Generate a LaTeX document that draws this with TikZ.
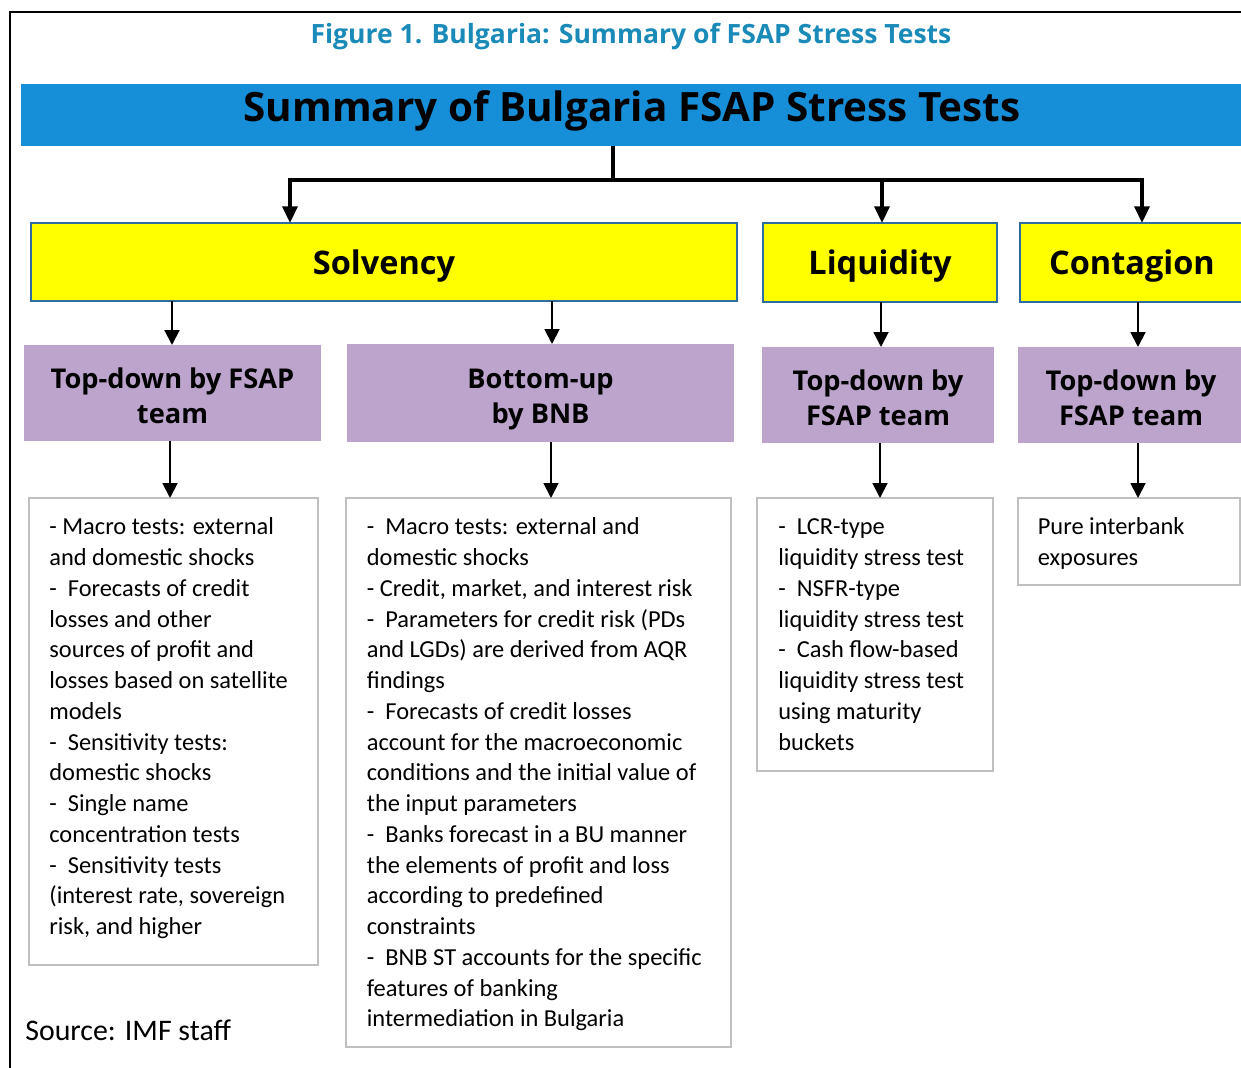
\documentclass[tikz,border=0pt]{standalone}
\usepackage{fontspec}
\setmainfont{Carlito}
\newfontfamily\headfont{Open Sans}
\usetikzlibrary{arrows.meta,calc}

\definecolor{figteal}{RGB}{26,138,184}
\definecolor{barblue}{RGB}{22,142,216}
\definecolor{boxyellow}{RGB}{255,255,0}
\definecolor{yedge}{RGB}{46,109,164}
\definecolor{lilac}{RGB}{188,164,204}
\definecolor{boxgray}{RGB}{192,192,192}

% one drawing unit = one pixel of the layout grid
\newcommand\pxl[1]{#1*0.02cm}
% invisible rules that place the two-line method labels
\newcommand\mtop{\rule{0pt}{20.9pt}}
\newcommand\mbot{\rule[-6.1pt]{0pt}{0pt}}

\tikzset{
  box/.style={anchor=north west, inner sep=0pt, outer sep=0pt},
  hdrbar/.style={box, fill=barblue},
  hdrtxt/.style={inner sep=0pt, font=\headfont\bfseries\fontsize{23}{28}\selectfont},
  catbox/.style={box, fill=boxyellow, draw=yedge, line width=0.9pt, text depth=0pt,
    font=\headfont\bfseries\fontsize{18.5}{22}\selectfont},
  methbox/.style={box, fill=lilac, align=center,
    font=\headfont\bfseries\fontsize{15.5}{20.4}\selectfont},
  txtbox/.style={box, draw=boxgray, line width=1.1pt, fill=white},
  bodytxt/.style={anchor=north west, inner sep=0pt, align=left,
    font=\fontsize{13.9}{17.5}\selectfont},
  mainarr/.style={line width=2pt, -{Triangle[width=8.5pt,length=9.5pt]}},
  subarr/.style={line width=1.1pt, -{Triangle[width=8.5pt,length=8.5pt]}},
}

\begin{document}
\begin{tikzpicture}[x=0.02cm, y=-0.02cm]
\useasboundingbox (0,0) rectangle (1241,1068);
\clip (0,0) rectangle (1241,1068);

% frame on top and left
\draw[line width=1.3pt] (10,1070) -- (10,12) -- (1245,12);

% figure caption
\node[font=\headfont\bfseries\fontsize{15.1}{19}\selectfont, text=figteal, inner sep=0pt]
  (cap) at (631,37) {Figure 1. Bulgaria: Summary of FSAP Stress Tests};

% header bar
\node[hdrbar, minimum width=\pxl{1222}, minimum height=\pxl{62}] (hdr) at (21,84) {};
\node[hdrtxt] (hdrlabel) at (632,111) {Summary of Bulgaria FSAP Stress Tests};

% categories
\node[catbox, minimum width=\pxl{706}, minimum height=\pxl{78}] (solv) at (31,223) {Solvency};
\node[catbox, minimum width=\pxl{234}, minimum height=\pxl{79}] (liq) at (763,223) {Liquidity};
\node[catbox, minimum width=\pxl{224}, minimum height=\pxl{79}] (cont) at (1020,223) {Contagion};

% methods
\node[methbox, minimum width=\pxl{297}, minimum height=\pxl{96}] (td1) at (24,345) {\mtop Top-down by FSAP\\team\mbot};
\node[methbox, minimum width=\pxl{387}, minimum height=\pxl{98}] (bu) at (347,344) {\mtop Bottom-up\\by BNB\mbot};
\node[methbox, minimum width=\pxl{232}, minimum height=\pxl{96}] (td2) at (762,347) {\mtop Top-down by\\FSAP team\mbot};
\node[methbox, minimum width=\pxl{226}, minimum height=\pxl{96}] (td3) at (1018,347) {\mtop Top-down by\\FSAP team\mbot};

% description boxes
\node[txtbox, minimum width=\pxl{289}, minimum height=\pxl{467}] (t1) at (29,498) {};
\node[txtbox, minimum width=\pxl{385}, minimum height=\pxl{549}] (t2) at (346,498) {};
\node[txtbox, minimum width=\pxl{236}, minimum height=\pxl{273}] (t3) at (757,498) {};
\node[txtbox, minimum width=\pxl{222}, minimum height=\pxl{87}] (t4) at (1018,498) {};

\node[bodytxt] (t1x) at (49,513) {\strut- Macro tests: external\\
and domestic shocks\\
-~ Forecasts of credit\\
losses and other\\
sources of profit and\\
losses based on satellite\\
models\\
-~ Sensitivity tests:\\
domestic shocks\\
-~ Single name\\
concentration tests\\
-~ Sensitivity tests\\
(interest rate, sovereign\\
risk, and higher};

\node[bodytxt] (t2x) at (366.5,513) {\strut-~ Macro tests: external and\\
domestic shocks\\
- Credit, market, and interest risk\\
-~ Parameters for credit risk (PDs\\
and LGDs) are derived from AQR\\
findings\\
-~ Forecasts of credit losses\\
account for the macroeconomic\\
conditions and the initial value of\\
the input parameters\\
-~ Banks forecast in a BU manner\\
the elements of profit and loss\\
according to predefined\\
constraints\\
-~ BNB ST accounts for the specific\\
features of banking\\
intermediation in Bulgaria};

\node[bodytxt] (t3x) at (778,513) {\strut-~ LCR-type\\
liquidity stress test\\
-~ NSFR-type\\
liquidity stress test\\
-~ Cash flow-based\\
liquidity stress test\\
using maturity\\
buckets};

\node[bodytxt] (t4x) at (1037.5,513) {\strut Pure interbank\\
exposures};

% source note
\node[anchor=base west, inner sep=0pt, font=\fontsize{17}{20}\selectfont] (src) at (25,1040) {Source: IMF staff};

% lanes for the connectors
\coordinate (split) at (613,180);
\coordinate (laneA) at (290,0);
\coordinate (laneB) at (882,0);
\coordinate (laneC) at (1142,0);
\coordinate (laneD) at (172,0);
\coordinate (laneE) at (552,0);
\coordinate (laneF) at (881,0);
\coordinate (laneG) at (1138,0);
\coordinate (laneH) at (170,0);
\coordinate (laneI) at (551,0);
\coordinate (laneJ) at (880,0);

% header to categories
\draw[line width=2pt] (hdr.south -| split) -- (split);
\draw[mainarr] (split) -| (solv.north -| laneA);
\draw[mainarr] (split) -| (liq.north -| laneB);
\draw[mainarr] (split) -| (cont.north -| laneC);

% categories to methods
\draw[subarr] (solv.south -| laneD) -- (td1.north -| laneD);
\draw[subarr] (solv.south -| laneE) -- (bu.north -| laneE);
\draw[subarr] (liq.south -| laneF) -- (td2.north -| laneF);
\draw[subarr] (cont.south -| laneG) -- (td3.north -| laneG);

% methods to descriptions
\draw[subarr] (td1.south -| laneH) -- (t1.north -| laneH);
\draw[subarr] (bu.south -| laneI) -- (t2.north -| laneI);
\draw[subarr] (td2.south -| laneJ) -- (t3.north -| laneJ);
\draw[subarr] (td3.south -| laneG) -- (t4.north -| laneG);
\end{tikzpicture}
\end{document}
